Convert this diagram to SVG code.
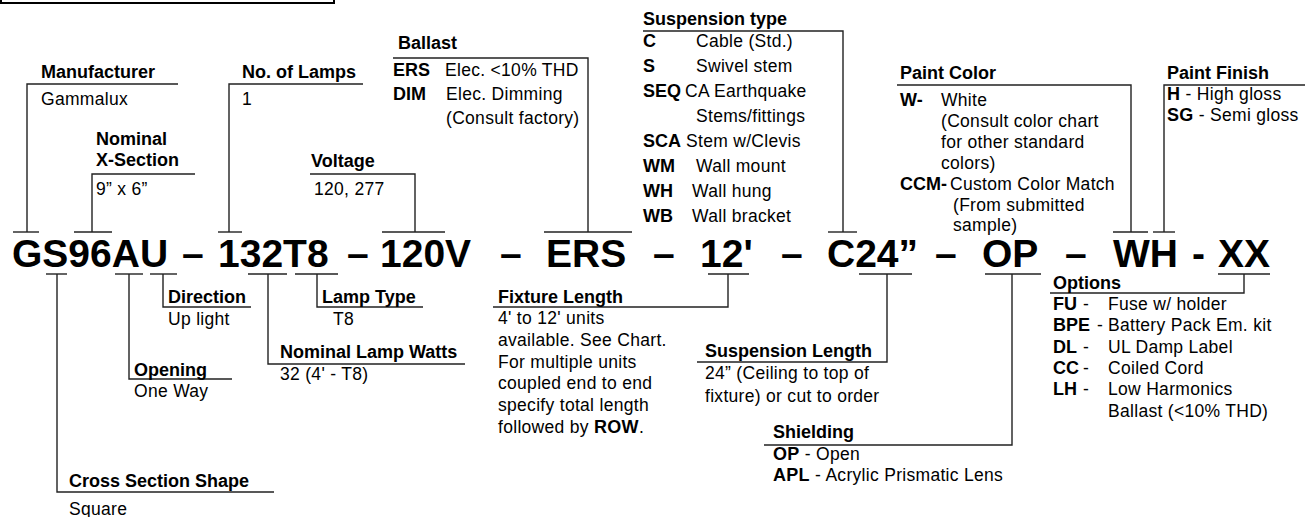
<svg xmlns="http://www.w3.org/2000/svg" width="1305" height="517" viewBox="0 0 1305 517">
<style>
text{font-family:"Liberation Sans",Arial,Helvetica,sans-serif;fill:#000}
.b{font-weight:bold;font-size:18px}
.t{font-size:17.5px;letter-spacing:0.3px}
.big{font-weight:bold;font-size:39px}
.ln{fill:none;stroke:#222;stroke-width:1.4}
.tk{stroke:#222;stroke-width:1.4}
</style>
<rect x="1" y="-10" width="333" height="13" fill="none" stroke="#000" stroke-width="2"/>

<g id="code">
<text class="big" x="12" y="267">GS96AU</text>
<text class="big" x="182" y="267">–</text>
<text class="big" x="218" y="267">132T8</text>
<text class="big" x="347" y="267">–</text>
<text class="big" x="380" y="267">120V</text>
<text class="big" x="500" y="267">–</text>
<text class="big" x="546" y="267">ERS</text>
<text class="big" x="653" y="267">–</text>
<text class="big" x="700" y="267">12'</text>
<text class="big" x="781" y="267">–</text>
<text class="big" x="827" y="267">C24”</text>
<text class="big" x="935" y="267">–</text>
<text class="big" x="982" y="267">OP</text>
<text class="big" x="1065" y="267">–</text>
<text class="big" x="1113" y="267">WH</text>
<text class="big" x="1192" y="267">-</text>
<text class="big" x="1218" y="267">XX</text>
</g>

<g id="connectors">
<line class="tk" x1="13" y1="232" x2="39" y2="232"/>
<line class="tk" x1="74" y1="232" x2="112" y2="232"/>
<line class="tk" x1="218" y1="232" x2="242" y2="232"/>
<line class="tk" x1="382" y1="232" x2="445" y2="232"/>
<line class="tk" x1="544" y1="232" x2="632" y2="232"/>
<line class="tk" x1="828" y1="232" x2="857" y2="232"/>
<line class="tk" x1="1113" y1="232" x2="1148" y2="232"/>
<line class="tk" x1="1153" y1="232" x2="1175" y2="232"/>
<line class="tk" x1="46" y1="274" x2="67" y2="274"/>
<line class="tk" x1="115" y1="274" x2="143" y2="274"/>
<line class="tk" x1="150" y1="274" x2="177" y2="274"/>
<line class="tk" x1="248" y1="274" x2="287" y2="274"/>
<line class="tk" x1="295" y1="274" x2="338" y2="274"/>
<line class="tk" x1="708" y1="274" x2="749" y2="274"/>
<line class="tk" x1="859" y1="274" x2="912" y2="274"/>
<line class="tk" x1="985" y1="274" x2="1041" y2="274"/>
<line class="tk" x1="1218" y1="274" x2="1270" y2="274"/>
<path class="ln" d="M27,232V84H178"/>
<path class="ln" d="M92,232V174H195"/>
<path class="ln" d="M229,232V84H363"/>
<path class="ln" d="M415,232V174H310"/>
<path class="ln" d="M588,232V58H393"/>
<path class="ln" d="M843,232V31H643"/>
<path class="ln" d="M1131,232V85H897"/>
<path class="ln" d="M1164,232V85H1306"/>
<path class="ln" d="M57,274V492H274"/>
<path class="ln" d="M129,274V379H232"/>
<path class="ln" d="M163,274V307H251"/>
<path class="ln" d="M268,274V364H465"/>
<path class="ln" d="M317,274V307H423"/>
<path class="ln" d="M728,274V307H493"/>
<path class="ln" d="M887,274V362H697"/>
<path class="ln" d="M1012,274V445H764"/>
<path class="ln" d="M1244,274V293H1050"/>
</g>

<g id="manufacturer">
<text class="b" x="41" y="78">Manufacturer</text>
<text class="t" x="41" y="105">Gammalux</text>
</g>
<g id="nominal-x-section">
<text class="b" x="96" y="145">Nominal</text>
<text class="b" x="96" y="166">X-Section</text>
<text class="t" x="96" y="195">9” x 6”</text>
</g>
<g id="no-of-lamps">
<text class="b" x="242" y="78">No. of Lamps</text>
<text class="t" x="242" y="105">1</text>
</g>
<g id="voltage">
<text class="b" x="311" y="167">Voltage</text>
<text class="t" x="314" y="195">120, 277</text>
</g>
<g id="ballast">
<text class="b" x="398" y="49">Ballast</text>
<text class="b" x="393" y="76">ERS</text><text class="t" x="445" y="76">Elec. &lt;10% THD</text>
<text class="b" x="393" y="100">DIM</text><text class="t" x="446" y="100">Elec. Dimming</text>
<text class="t" x="446" y="124">(Consult factory)</text>
</g>
<g id="suspension-type">
<text class="b" x="643" y="25">Suspension type</text>
<text class="b" x="643" y="46.5">C</text><text class="t" x="696" y="46.5">Cable (Std.)</text>
<text class="b" x="643" y="71.5">S</text><text class="t" x="696" y="71.5">Swivel stem</text>
<text class="b" x="643" y="96.5">SEQ</text><text class="t" x="685" y="96.5">CA Earthquake</text>
<text class="t" x="696" y="121.5">Stems/fittings</text>
<text class="b" x="643" y="146.5">SCA</text><text class="t" x="686" y="146.5">Stem w/Clevis</text>
<text class="b" x="643" y="171.5">WM</text><text class="t" x="696" y="171.5">Wall mount</text>
<text class="b" x="643" y="196.5">WH</text><text class="t" x="692" y="196.5">Wall hung</text>
<text class="b" x="643" y="221.5">WB</text><text class="t" x="692" y="221.5">Wall bracket</text>
</g>
<g id="paint-color">
<text class="b" x="900" y="79">Paint Color</text>
<text class="b" x="900" y="106">W-</text><text class="t" x="941" y="106">White</text>
<text class="t" x="941" y="127">(Consult color chart</text>
<text class="t" x="941" y="148">for other standard</text>
<text class="t" x="941" y="169">colors)</text>
<text class="b" x="900" y="190">CCM-</text><text class="t" x="950" y="190">Custom Color Match</text>
<text class="t" x="953" y="211">(From submitted</text>
<text class="t" x="953" y="231">sample)</text>
</g>
<g id="paint-finish">
<text class="b" x="1167" y="79">Paint Finish</text>
<text class="t" x="1167" y="100"><tspan class="b">H</tspan> - High gloss</text>
<text class="t" x="1167" y="121"><tspan class="b">SG</tspan> - Semi gloss</text>
</g>
<g id="direction">
<text class="b" x="168" y="303">Direction</text>
<text class="t" x="168" y="325">Up light</text>
</g>
<g id="lamp-type">
<text class="b" x="322" y="303">Lamp Type</text>
<text class="t" x="333" y="325">T8</text>
</g>
<g id="opening">
<text class="b" x="134" y="376">Opening</text>
<text class="t" x="134" y="397">One Way</text>
</g>
<g id="nominal-lamp-watts">
<text class="b" x="280" y="358">Nominal Lamp Watts</text>
<text class="t" x="280" y="380">32 (4' - T8)</text>
</g>
<g id="cross-section-shape">
<text class="b" x="69" y="487">Cross Section Shape</text>
<text class="t" x="69" y="515">Square</text>
</g>
<g id="fixture-length">
<text class="b" x="498" y="303">Fixture Length</text>
<text class="t" x="498" y="324">4' to 12' units</text>
<text class="t" x="498" y="346">available. See Chart.</text>
<text class="t" x="498" y="368">For multiple units</text>
<text class="t" x="498" y="389">coupled end to end</text>
<text class="t" x="498" y="411">specify total length</text>
<text class="t" x="498" y="433">followed by <tspan class="b">ROW</tspan>.</text>
</g>
<g id="suspension-length">
<text class="b" x="705" y="357">Suspension Length</text>
<text class="t" x="705" y="379">24” (Ceiling to top of</text>
<text class="t" x="705" y="402">fixture) or cut to order</text>
</g>
<g id="shielding">
<text class="b" x="773" y="438">Shielding</text>
<text class="t" x="773" y="460"><tspan class="b">OP</tspan> - Open</text>
<text class="t" x="773" y="481"><tspan class="b">APL</tspan> - Acrylic Prismatic Lens</text>
</g>
<g id="options">
<text class="b" x="1053" y="289">Options</text>
<text class="b" x="1053" y="310">FU</text><text class="t" x="1083" y="310">-</text><text class="t" x="1108" y="310">Fuse w/ holder</text>
<text class="b" x="1053" y="331">BPE</text><text class="t" x="1097" y="331">-</text><text class="t" x="1108" y="331">Battery Pack Em. kit</text>
<text class="b" x="1053" y="353">DL</text><text class="t" x="1083" y="353">-</text><text class="t" x="1108" y="353">UL Damp Label</text>
<text class="b" x="1053" y="374">CC</text><text class="t" x="1083" y="374">-</text><text class="t" x="1108" y="374">Coiled Cord</text>
<text class="b" x="1053" y="395">LH</text><text class="t" x="1083" y="395">-</text><text class="t" x="1108" y="395">Low Harmonics</text>
<text class="t" x="1108" y="417">Ballast (&lt;10% THD)</text>
</g>
</svg>
